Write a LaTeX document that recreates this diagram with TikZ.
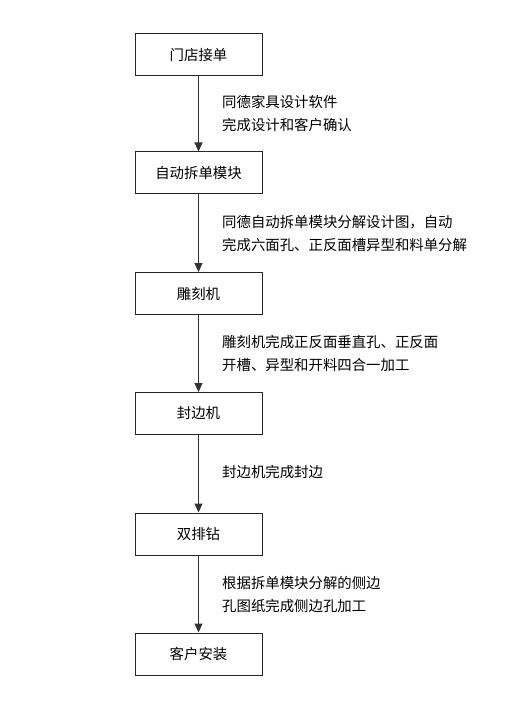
\documentclass[tikz,border=0pt]{standalone}
\usepackage{fontspec}
\newfontfamily\cjk{Noto Sans CJK SC}
\usetikzlibrary{arrows.meta}
\begin{document}
\begin{tikzpicture}[x=1pt,y=-1pt,
  stepbox/.style={draw=black!85,line width=1pt,minimum width=127pt,minimum height=42pt,inner sep=0pt,font=\cjk\fontsize{14.4pt}{17pt}\selectfont},
  flow/.style={draw=black!80,line width=1pt,-{Triangle[length=9pt,width=8pt]}},
  note/.style={anchor=west,align=left,inner sep=0pt,font=\cjk\fontsize{14.4pt}{23pt}\selectfont}]
\useasboundingbox (0,0) rectangle (506,711);
\node[stepbox] (b1) at (198.5,55) {门店接单};
\node[stepbox] (b2) at (198.5,173) {自动拆单模块};
\node[stepbox] (b3) at (198.5,293.5) {雕刻机};
\node[stepbox] (b4) at (198.5,413.5) {封边机};
\node[stepbox] (b5) at (198.5,534) {双排钻};
\node[stepbox] (b6) at (198.5,654) {客户安装};
\draw[flow] (b1) -- (b2);
\draw[flow] (b2) -- (b3);
\draw[flow] (b3) -- (b4);
\draw[flow] (b4) -- (b5);
\draw[flow] (b5) -- (b6);
\node[note] (t1) at (222,113.5) {同德家具设计软件\\完成设计和客户确认};
\node[note] (t2) at (222,233.5) {同德自动拆单模块分解设计图，自动\\完成六面孔、正反面槽异型和料单分解};
\node[note] (t3) at (222,353.5) {雕刻机完成正反面垂直孔、正反面\\开槽、异型和开料四合一加工};
\node[note] (t4) at (222,472) {封边机完成封边};
\node[note] (t5) at (222,594.5) {根据拆单模块分解的侧边\\孔图纸完成侧边孔加工};
\end{tikzpicture}
\end{document}
